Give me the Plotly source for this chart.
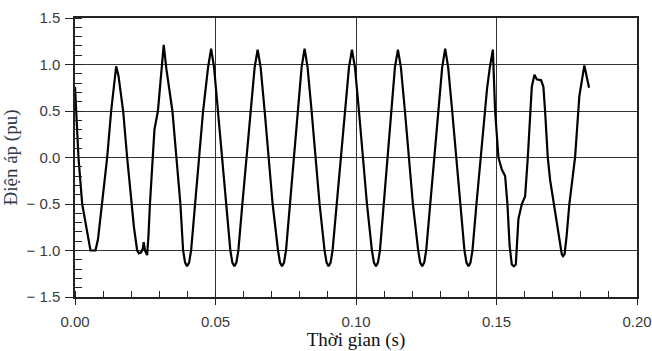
import plotly.graph_objects as go

# Time (s) and voltage (pu)
time_s = [
    0.0000, 0.00071, 0.00124, 0.00256, 0.00373, 0.00480, 0.00551, 0.00729, 0.00818, 0.00967,
    0.01145, 0.01287, 0.01387, 0.01465, 0.01547, 0.01714, 0.01856, 0.02009, 0.02098, 0.02212,
    0.02276, 0.02354, 0.02411, 0.02446, 0.02489, 0.02567, 0.02613, 0.02667, 0.02756, 0.02827,
    0.02951, 0.03058, 0.03157, 0.03253, 0.03396, 0.03467, 0.03609, 0.03751, 0.03847, 0.03918,
    0.03989,
    0.04060, 0.04132, 0.04274, 0.04416, 0.04558, 0.04736, 0.04843, 0.04949, 0.05092, 0.05234,
    0.05376, 0.05529, 0.05600, 0.05671,
    0.05742, 0.05813, 0.05956, 0.06098, 0.06240, 0.06393, 0.06500, 0.06606, 0.06749, 0.06891,
    0.07033, 0.07225, 0.07296, 0.07367,
    0.07438, 0.07509, 0.07652, 0.07794, 0.07936, 0.08064, 0.08171, 0.08277, 0.08420, 0.08562,
    0.08704, 0.08882, 0.08953, 0.09024,
    0.09095, 0.09166, 0.09309, 0.09451, 0.09593, 0.09750, 0.09856, 0.09963, 0.10105, 0.10247,
    0.10390, 0.10567, 0.10639, 0.10710,
    0.10781, 0.10852, 0.10987, 0.11122, 0.11253, 0.11385, 0.11492, 0.11598, 0.11741, 0.11883,
    0.12025, 0.12214, 0.12285, 0.12356,
    0.12427, 0.12498, 0.12640, 0.12783, 0.12925, 0.13067, 0.13174, 0.13280, 0.13423, 0.13565,
    0.13707, 0.13860, 0.13931, 0.14002,
    0.14073, 0.14144, 0.14287, 0.14429, 0.14571, 0.14667, 0.14763, 0.14870,
    0.14951, 0.15069, 0.15190, 0.15307, 0.15389, 0.15467, 0.15545, 0.15616, 0.15687, 0.15780,
    0.15901, 0.16018, 0.16114, 0.16196, 0.16256, 0.16350, 0.16435, 0.16588, 0.16669, 0.16729,
    0.16825, 0.16907, 0.17049, 0.17237, 0.17323, 0.17369, 0.17422, 0.17493, 0.17593, 0.17796,
    0.17913, 0.17948, 0.18126, 0.18212, 0.18294,
]
voltage_pu = [
    0.76, 0.35, 0.0, -0.5, -0.70, -0.92, -1.0, -1.0, -0.88, -0.48,
    0.0, 0.5, 0.80, 0.98, 0.88, 0.5, 0.0, -0.5, -0.75, -1.0,
    -1.03, -1.02, -0.98, -0.91, -1.0, -1.05, -0.85, -0.5, 0.0, 0.3,
    0.5, 0.88, 1.21, 0.95, 0.62, 0.5, 0.0, -0.5, -1.0, -1.13,
    -1.17,
    -1.13, -1.0, -0.5, 0.0, 0.5, 0.97, 1.17, 0.97, 0.5, 0.0,
    -0.5, -1.0, -1.13, -1.17,
    -1.13, -1.0, -0.5, 0.0, 0.5, 0.97, 1.16, 0.97, 0.5, 0.0,
    -0.5, -1.0, -1.13, -1.17,
    -1.13, -1.0, -0.5, 0.0, 0.5, 0.97, 1.17, 0.97, 0.5, 0.0,
    -0.5, -1.0, -1.13, -1.17,
    -1.13, -1.0, -0.5, 0.0, 0.5, 0.97, 1.16, 0.97, 0.5, 0.0,
    -0.5, -1.0, -1.13, -1.17,
    -1.13, -1.0, -0.5, 0.0, 0.5, 0.97, 1.16, 0.97, 0.5, 0.0,
    -0.5, -1.0, -1.13, -1.17,
    -1.13, -1.0, -0.5, 0.0, 0.5, 0.97, 1.17, 0.97, 0.5, 0.0,
    -0.5, -1.0, -1.13, -1.17,
    -1.13, -1.0, -0.5, 0.0, 0.5, 0.75, 0.97, 1.16,
    0.5, 0.0, -0.13, -0.2, -0.5, -0.95, -1.15, -1.17, -1.15, -0.66,
    -0.5, -0.42, 0.0, 0.5, 0.76, 0.89, 0.84, 0.83, 0.76, 0.5,
    0.0, -0.24, -0.5, -0.84, -1.04, -1.06, -1.04, -0.85, -0.5, 0.0,
    0.5, 0.66, 0.99, 0.85, 0.75,
]

x_tick_vals = [0.0, 0.05, 0.10, 0.15, 0.20]
x_tick_text = ["0.00", "0.05", "0.10", "0.15", "0.20"]
y_tick_vals = [-1.5, -1.0, -0.5, 0.0, 0.5, 1.0, 1.5]
y_tick_text = ["\u2212\u00a01.5", "\u2212\u00a01.0", "\u2212\u00a00.5", "0.0", "0.5", "1.0", "1.5"]

fig = go.Figure()
fig.add_trace(go.Scatter(
    x=time_s, y=voltage_pu, mode="lines",
    line=dict(color="black", width=2.2),
    showlegend=False, hoverinfo="skip",
))

tick_font = dict(family="Liberation Sans, Arial, sans-serif", size=15, color="#3a3a3a")
title_family = "Liberation Serif, Times New Roman, serif"

fig.update_layout(
    width=652, height=351,
    margin=dict(l=75, r=15, t=18, b=54),
    paper_bgcolor="white", plot_bgcolor="white",
    xaxis=dict(
        range=[0, 0.2], tickmode="array", tickvals=x_tick_vals, ticktext=x_tick_text,
        automargin=False,
        showgrid=True, gridcolor="#333", gridwidth=1.2,
        showline=True, linecolor="#222", linewidth=1.5, mirror=True,
        ticks="outside", ticklen=6, tickcolor="#222", tickwidth=1,
        minor=dict(dtick=0.01, tick0=0, ticks="inside", ticklen=6, tickcolor="#222", showgrid=False),
        zeroline=False, tickfont=tick_font, ticklabelstandoff=4,
        title=dict(text="Thời gian (s)", standoff=1,
                   font=dict(family=title_family, size=19, color="#111")),
    ),
    yaxis=dict(
        range=[-1.5, 1.5], tickmode="array", tickvals=y_tick_vals, ticktext=y_tick_text,
        automargin=False,
        showgrid=True, gridcolor="#333", gridwidth=1.2,
        showline=True, linecolor="#222", linewidth=1.5, mirror=True,
        ticks="outside", ticklen=8, tickcolor="#222", tickwidth=1,
        minor=dict(dtick=0.1, tick0=0, ticks="inside", ticklen=7, tickcolor="#222", showgrid=False),
        zeroline=False, tickfont=tick_font, ticklabelstandoff=2,
        title=dict(text="Điện áp (pu)", standoff=4,
                   font=dict(family=title_family, size=19, color="#2e3b4e")),
    ),
)

fig.write_html(
    "out.html",
    config={"displayModeBar": False},
    post_script="document.body.style.margin='0';document.body.style.overflow='hidden';",
)
